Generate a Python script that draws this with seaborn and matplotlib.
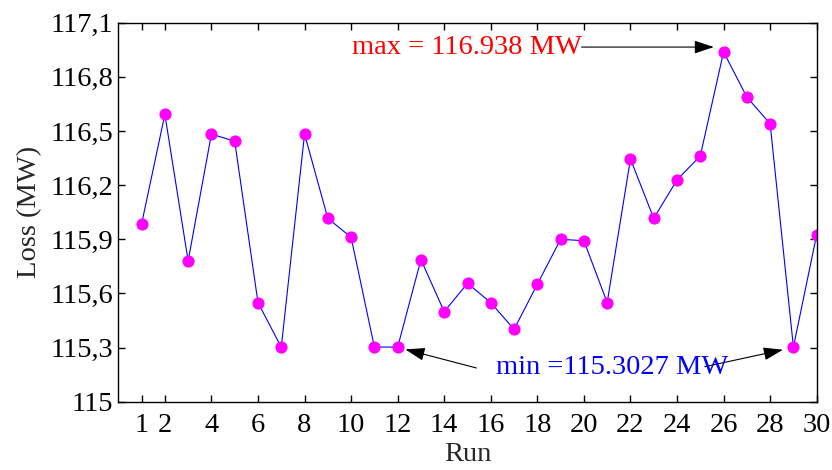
import numpy as np
import pandas as pd
import seaborn as sns
import matplotlib
matplotlib.use("Agg")
import matplotlib.pyplot as plt
from matplotlib.ticker import FuncFormatter

runs = list(range(1, 31))
loss = [115.985, 116.592, 115.780, 116.483, 116.443, 115.549, 115.302, 116.483,
        116.016, 115.911, 115.3027, 115.3027, 115.787, 115.499, 115.656, 115.549,
        115.401, 115.651, 115.900, 115.892, 115.549, 116.345, 116.016, 116.229,
        116.362, 116.938, 116.688, 116.540, 115.3027, 115.926]
x_ticks = [1, 2, 4, 6, 8, 10, 12, 14, 16, 18, 20, 22, 24, 26, 28, 30]
y_ticks = [115, 115.3, 115.6, 115.9, 116.2, 116.5, 116.8, 117.1]

max_label = "max = 116.938 MW"
min_label = "min =115.3027 MW"

sns.set_style("ticks")
plt.rcParams["font.family"] = ["Liberation Serif", "DejaVu Serif"]

df = pd.DataFrame({"Run": runs, "Loss": loss})

fig = plt.figure(figsize=(8.32, 4.70), dpi=100)
ax = fig.add_axes([0.1422, 0.1453, 0.9816 - 0.1422, 0.9517 - 0.1453])

sns.lineplot(data=df, x="Run", y="Loss", ax=ax, color="blue", linewidth=0.8,
             marker="o", markersize=8, markerfacecolor="magenta",
             markeredgecolor="magenta")

ax.set_xlim(0, 30)
ax.set_ylim(115, 117.1)
ax.set_xticks(x_ticks)
ax.set_yticks(y_ticks)


def fmt(v, pos):
    if abs(v - round(v)) < 1e-6:
        return f"{v:.0f}"
    return f"{v:.1f}".replace(".", ",")


ax.yaxis.set_major_formatter(FuncFormatter(fmt))
ax.tick_params(direction="in", length=5, width=1, top=True, right=True,
               labeltop=False, labelright=False, labelsize=20.5, colors="black")
ax.tick_params(axis="x", pad=8)
for s in ax.spines.values():
    s.set_visible(True)
    s.set_color("black")
    s.set_linewidth(1)

ax.set_xlabel("Run", fontsize=20.5, labelpad=3)
ax.set_ylabel("Loss (MW)", fontsize=20.5, labelpad=6)

arrow = dict(arrowstyle="-|>,head_length=1.2,head_width=0.4", color="black",
             lw=0.8, shrinkA=0, shrinkB=0)

ax.annotate("", xy=(25.58, 116.965), xytext=(19.9, 116.965), arrowprops=arrow)
ax.text(19.9, 116.965, max_label, color="red", fontsize=20.5,
        ha="right", va="center")

ax.annotate("", xy=(12.33, 115.29), xytext=(15.38, 115.187), arrowprops=arrow)
ax.annotate("", xy=(28.55, 115.288), xytext=(25.19, 115.194), arrowprops=arrow)
ax.text(16.24, 115.19, min_label, color="blue", fontsize=20.5, ha="left", va="center")

fig.savefig("out.png", dpi=100)
